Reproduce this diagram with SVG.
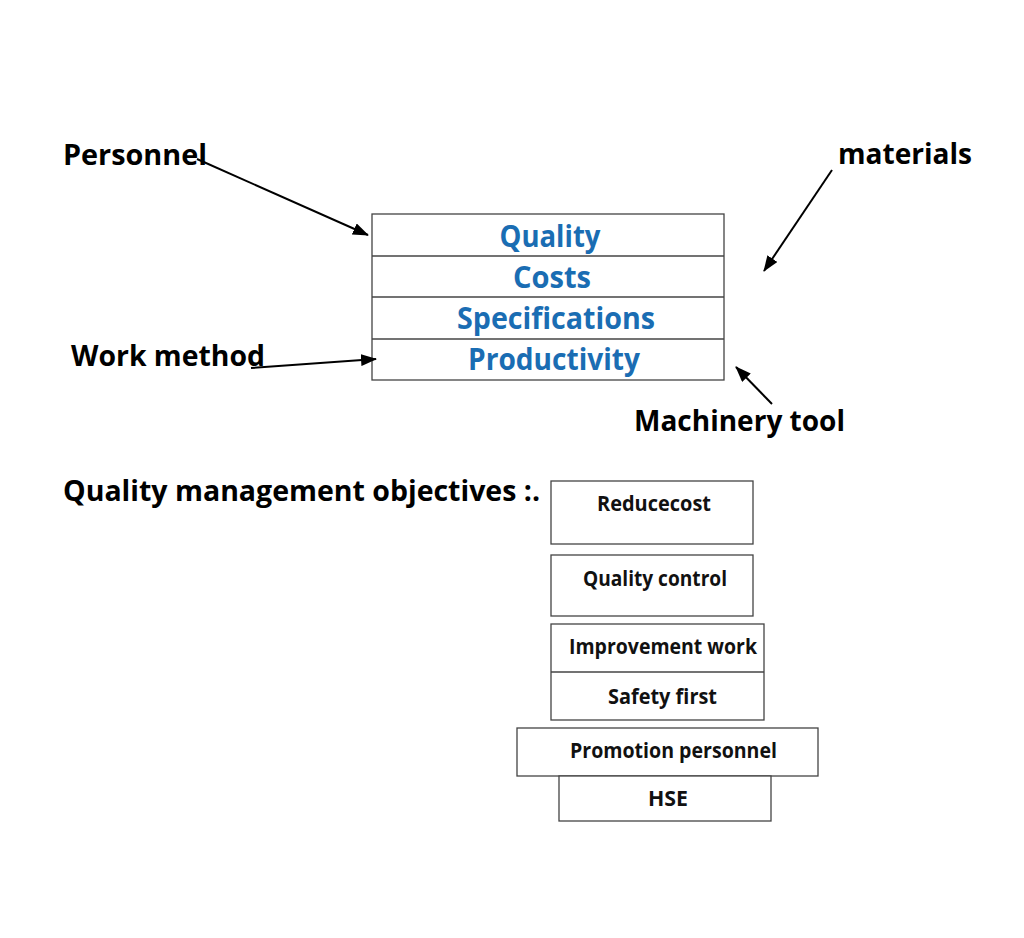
<svg xmlns="http://www.w3.org/2000/svg" width="1024" height="938" viewBox="0 0 1024 938">
<style>
.lbl{font-family:"Open Sans","Liberation Sans",sans-serif;font-weight:bold;font-size:29px;fill:#000}
.blue{font-family:"Open Sans","Liberation Sans",sans-serif;font-weight:bold;font-size:31px;fill:#1a6db3;text-anchor:middle}
.sm{font-family:"Open Sans","Liberation Sans",sans-serif;font-weight:bold;font-size:21px;fill:#111;text-anchor:middle}
.box{fill:#fff;stroke:#444;stroke-width:1.3}
.conn{stroke:#000;stroke-width:2;fill:none;marker-end:url(#ah)}
</style>
<defs>
<marker id="ah" markerUnits="userSpaceOnUse" markerWidth="16" markerHeight="12" refX="15" refY="6" orient="auto">
<path d="M0,0 L16,6 L0,12 Z" fill="#000"/>
</marker>
</defs>
<rect width="1024" height="938" fill="#fff"/>
<g id="factors">
<rect class="box" x="372" y="214" width="352" height="166"/>
<line x1="372" y1="256" x2="724" y2="256" stroke="#444" stroke-width="1.3"/>
<line x1="372" y1="297" x2="724" y2="297" stroke="#444" stroke-width="1.3"/>
<line x1="372" y1="339" x2="724" y2="339" stroke="#444" stroke-width="1.3"/>
<text class="blue" x="550" y="247" textLength="101" lengthAdjust="spacingAndGlyphs">Quality</text>
<text class="blue" x="552" y="288" textLength="78" lengthAdjust="spacingAndGlyphs">Costs</text>
<text class="blue" x="556" y="329" textLength="198" lengthAdjust="spacingAndGlyphs">Specifications</text>
<text class="blue" x="554" y="370" textLength="172" lengthAdjust="spacingAndGlyphs">Productivity</text>
</g>
<g id="personnel"><text class="lbl" x="63" y="165" textLength="144" lengthAdjust="spacingAndGlyphs">Personnel</text></g>
<g id="work-method"><text class="lbl" x="71" y="366" textLength="194" lengthAdjust="spacingAndGlyphs">Work method</text></g>
<g id="materials"><text class="lbl" x="838" y="164" textLength="134" lengthAdjust="spacingAndGlyphs">materials</text></g>
<g id="machinery"><text class="lbl" x="634" y="431" textLength="211" lengthAdjust="spacingAndGlyphs">Machinery tool</text></g>
<g id="objectives-title"><text class="lbl" x="63" y="501" textLength="477" lengthAdjust="spacingAndGlyphs">Quality management objectives :.</text></g>
<g id="connectors">
<line class="conn" x1="197" y1="159" x2="368" y2="235"/>
<line class="conn" x1="251" y1="368" x2="376" y2="359"/>
<line class="conn" x1="832" y1="170" x2="764" y2="271"/>
<line class="conn" x1="772" y1="404" x2="736" y2="367"/>
</g>
<g id="reducecost">
<rect class="box" x="551" y="481" width="202" height="63"/>
<text class="sm" x="654" y="511" textLength="114" lengthAdjust="spacingAndGlyphs">Reducecost</text>
</g>
<g id="quality-control">
<rect class="box" x="551" y="555" width="202" height="61"/>
<text class="sm" x="655" y="586" textLength="144" lengthAdjust="spacingAndGlyphs">Quality control</text>
</g>
<g id="improvement-safety">
<rect class="box" x="551" y="624" width="213" height="96"/>
<line x1="551" y1="672" x2="764" y2="672" stroke="#444" stroke-width="1.3"/>
<text class="sm" x="663" y="654" textLength="188" lengthAdjust="spacingAndGlyphs">Improvement work</text>
<text class="sm" x="662.5" y="704" textLength="109" lengthAdjust="spacingAndGlyphs">Safety first</text>
</g>
<g id="promotion">
<rect class="box" x="517" y="728" width="301" height="48"/>
<text class="sm" x="673.5" y="758" textLength="207" lengthAdjust="spacingAndGlyphs">Promotion personnel</text>
</g>
<g id="hse">
<rect class="box" x="559" y="776" width="212" height="45"/>
<text class="sm" x="668" y="806" textLength="40" lengthAdjust="spacingAndGlyphs">HSE</text>
</g>
</svg>
